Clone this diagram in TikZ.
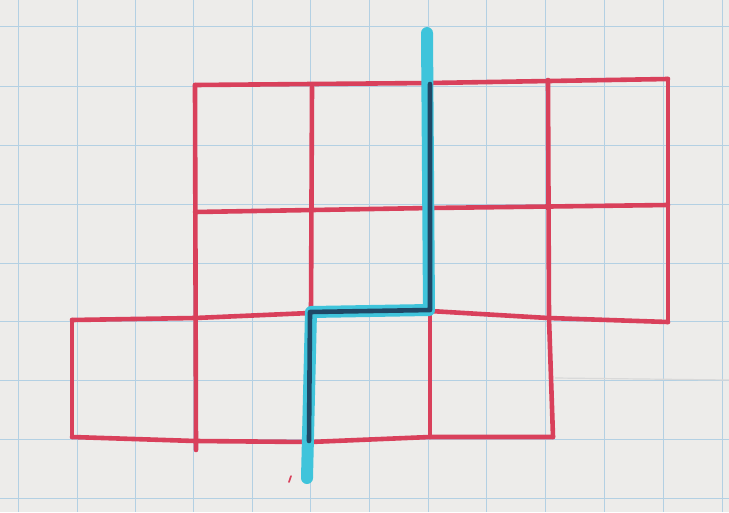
\documentclass[tikz,border=0pt]{standalone}
\usetikzlibrary{calc}
\definecolor{paper}{HTML}{EDECEA}
\definecolor{gridblue}{HTML}{B3D0E3}
\definecolor{penred}{HTML}{D9405B}
\definecolor{pencyan}{HTML}{3FC4DB}
\definecolor{pennavy}{HTML}{1F4866}
\tikzset{
  paperline/.style={gridblue, line width=1pt},
  redpen/.style={penred, line width=4.6pt, line cap=round, line join=round},
  cyanpen/.style={pencyan, line width=12pt, line cap=round, line join=round},
  navypen/.style={pennavy, line width=4.6pt, line cap=round, line join=round},
}
\begin{document}
\begin{tikzpicture}[x=1pt,y=-1pt]
  \fill[paper] (0,0) rectangle (729,512);
  \useasboundingbox (0,0) rectangle (729,512);
  % graph paper
  \foreach \gx in {18,77,135,193,252,310,369,428,486,545,604,663,722}
    \draw[paperline] (\gx,0) -- (\gx,512);
  \foreach \gy in {26,86,145,204,263,321,380,439,498}
    \draw[paperline] (0,\gy) -- (729,\gy);
  % crease
  \draw[gray!30, line width=1.2pt] (555,378) -- (729,380);
  % red grid
  \draw[redpen] (195,85) -- (430,83) -- (668,79);
  \draw[redpen] (195,212) -- (430,208) -- (668,205);
  \draw[redpen] (72,320) -- (195,318) -- (310,313) -- (430,311) -- (548,318) -- (668,322);
  \draw[redpen] (72,437) -- (195,441) -- (310,442) -- (430,437) -- (553,437);
  \draw[redpen] (72,320) -- (72,437);
  \draw[redpen] (195,85) -- (196,450);
  \draw[redpen] (312,87) -- (311,313);
  \draw[redpen] (430,311) -- (430,437);
  \draw[redpen] (548,80) -- (549,318) -- (553,437);
  \draw[redpen] (668,79) -- (668,322);
  \draw[penred, line width=1.6pt, line cap=round] (289,482) -- (291,476);
  % blue cut
  \draw[cyanpen] (427,33) -- (429,310) -- (311,312) -- (307,478);
  \draw[navypen] (430,84) -- (430,310) -- (310,312) -- (309,441);
\end{tikzpicture}
\end{document}
